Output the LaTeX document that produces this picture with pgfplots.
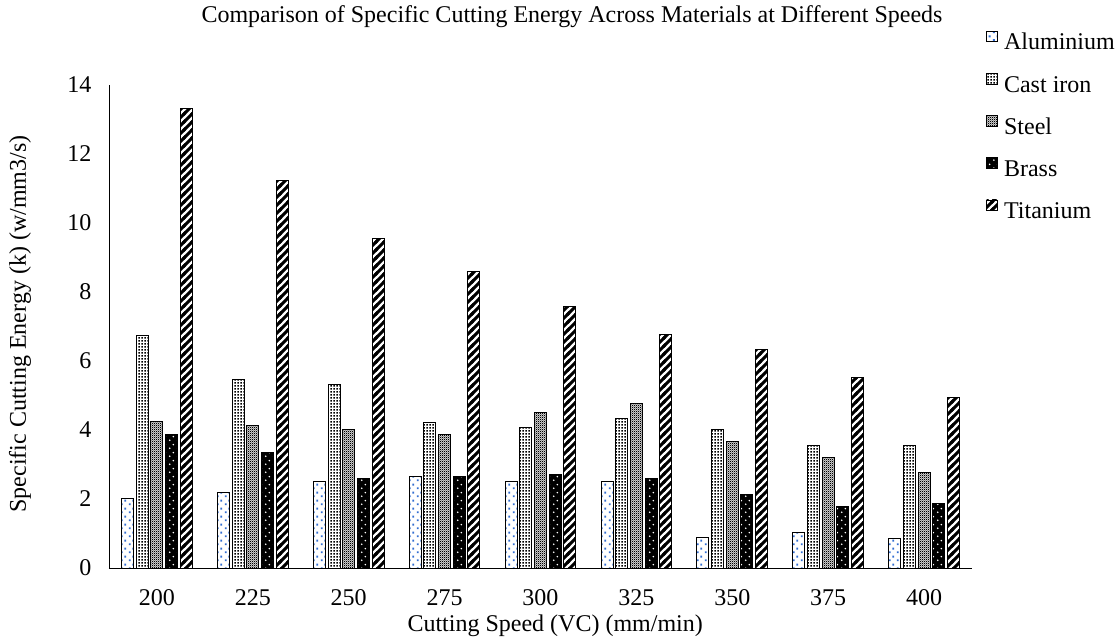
\documentclass[border=0pt]{standalone}
\usepackage{fontspec}
\setmainfont{Liberation Serif}
\usepackage{pgfplots}
\pgfplotsset{compat=1.18}
\usetikzlibrary{patterns}
\newcommand\ff{\fontsize{24}{28}\selectfont}
\definecolor{alblue}{RGB}{50,110,210}
\pgfdeclarepatternformonly{aldots}{\pgfpointorigin}{\pgfpoint{8pt}{8pt}}{\pgfpoint{8pt}{8pt}}{%
  \pgfpathrectangle{\pgfpoint{1pt}{1pt}}{\pgfpoint{2pt}{2pt}}%
  \pgfpathrectangle{\pgfpoint{5pt}{5pt}}{\pgfpoint{2pt}{2pt}}%
  \pgfusepath{fill}}
\pgfdeclarepatternformonly{cidots}{\pgfpointorigin}{\pgfpoint{3pt}{3pt}}{\pgfpoint{3pt}{3pt}}{%
  \pgfpathrectangle{\pgfpoint{0.6pt}{0.6pt}}{\pgfpoint{1.8pt}{1.8pt}}%
  \pgfusepath{fill}}
\pgfdeclarepatternformonly{stchk}{\pgfpointorigin}{\pgfpoint{2pt}{2pt}}{\pgfpoint{2pt}{2pt}}{%
  \pgfpathrectangle{\pgfpoint{0pt}{0pt}}{\pgfpoint{1.3pt}{1.3pt}}%
  \pgfpathrectangle{\pgfpoint{1pt}{1pt}}{\pgfpoint{1.3pt}{1.3pt}}%
  \pgfusepath{fill}}
\pgfdeclarepatternformonly{brdots}{\pgfpointorigin}{\pgfpoint{8pt}{8pt}}{\pgfpoint{8pt}{8pt}}{%
  \pgfpathcircle{\pgfpoint{2pt}{2pt}}{0.95pt}%
  \pgfpathcircle{\pgfpoint{6pt}{6pt}}{0.95pt}%
  \pgfusepath{fill}}
\pgfdeclarepatternformonly{tistripes}{\pgfpoint{-2pt}{-2pt}}{\pgfpoint{10pt}{10pt}}{\pgfpoint{8pt}{8pt}}{%
  \pgfsetlinewidth{3.1pt}%
  \pgfpathmoveto{\pgfpoint{-2pt}{-2pt}}\pgfpathlineto{\pgfpoint{10pt}{10pt}}%
  \pgfusepath{stroke}}
\pgfplotsset{
  mybar/.style={ybar, bar width=0.125, draw=black, line width=1pt,
    legend image code/.code={\draw[##1,line width=0.8pt] (0pt,2.5pt) rectangle (10.5pt,13pt); \path (17pt,0pt);}},
}
\begin{document}
\begin{tikzpicture}
\begin{axis}[
  at={(109pt,-568pt)}, anchor=south west,
  scale only axis, width=863pt, height=483pt,
  xmin=-0.5, xmax=8.5, ymin=0, ymax=14,
  axis x line*=bottom, axis y line*=left,
  axis line style={-, line width=0.9pt},
  xtick={0,...,8},
  xticklabels={200,225,250,275,300,325,350,375,400},
  ytick={0,2,...,14},
  major tick length=0pt,
  tick label style={font=\ff},
  /pgf/number format/assume math mode=true,
  yticklabel style={xshift=-14pt},
  xticklabel style={yshift=-18pt},
  xlabel={Cutting Speed (VC) (mm/min)},
  ylabel={Specific Cutting Energy (k) (w/mm3/s)},
  xlabel style={at={(axis description cs:0.517,-0.12)}, anchor=center, font=\ff},
  ylabel style={at={(axis description cs:-0.1031,0.505)}, anchor=center, font=\ff},
  title={Comparison of Specific Cutting Energy Across Materials at Different Speeds},
  title style={at={(axis description cs:0.5365,1.130)}, anchor=center, font=\ff},
  legend cell align=left,
  legend style={at={(axis description cs:1.0162,1.1123)}, anchor=north west,
    draw=none, fill=none, inner sep=0pt, row sep=17.25pt, column sep=0pt, font=\ff,
    nodes={inner sep=0pt, text height=17pt, text depth=6pt}},
  clip=false,
]
\addplot[mybar, bar shift=-0.306, fill=white, postaction={pattern=aldots, pattern color=alblue}]
  coordinates {(0,2.01) (1,2.20) (2,2.50) (3,2.66) (4,2.51) (5,2.51) (6,0.89) (7,1.02) (8,0.86)};
\addplot[mybar, bar shift=-0.153, fill=white, postaction={pattern=cidots, pattern color=black}]
  coordinates {(0,6.74) (1,5.46) (2,5.32) (3,4.22) (4,4.06) (5,4.32) (6,4.01) (7,3.56) (8,3.56)};
\addplot[mybar, bar shift=0, fill=white, postaction={pattern=stchk, pattern color=black}]
  coordinates {(0,4.24) (1,4.14) (2,4.01) (3,3.88) (4,4.52) (5,4.77) (6,3.68) (7,3.19) (8,2.76)};
\addplot[mybar, bar shift=0.153, fill=black, postaction={pattern=brdots, pattern color=white}]
  coordinates {(0,3.86) (1,3.35) (2,2.58) (3,2.64) (4,2.71) (5,2.60) (6,2.14) (7,1.78) (8,1.87)};
\addplot[mybar, bar shift=0.306, fill=white, postaction={pattern=tistripes, pattern color=black}]
  coordinates {(0,13.31) (1,11.22) (2,9.54) (3,8.59) (4,7.58) (5,6.78) (6,6.32) (7,5.53) (8,4.94)};
\legend{Aluminium,Cast iron,Steel,Brass,Titanium}
\end{axis}
\pgfresetboundingbox
\path[use as bounding box] (0pt,0pt) rectangle (1117pt,-642pt);
\end{tikzpicture}
\end{document}
